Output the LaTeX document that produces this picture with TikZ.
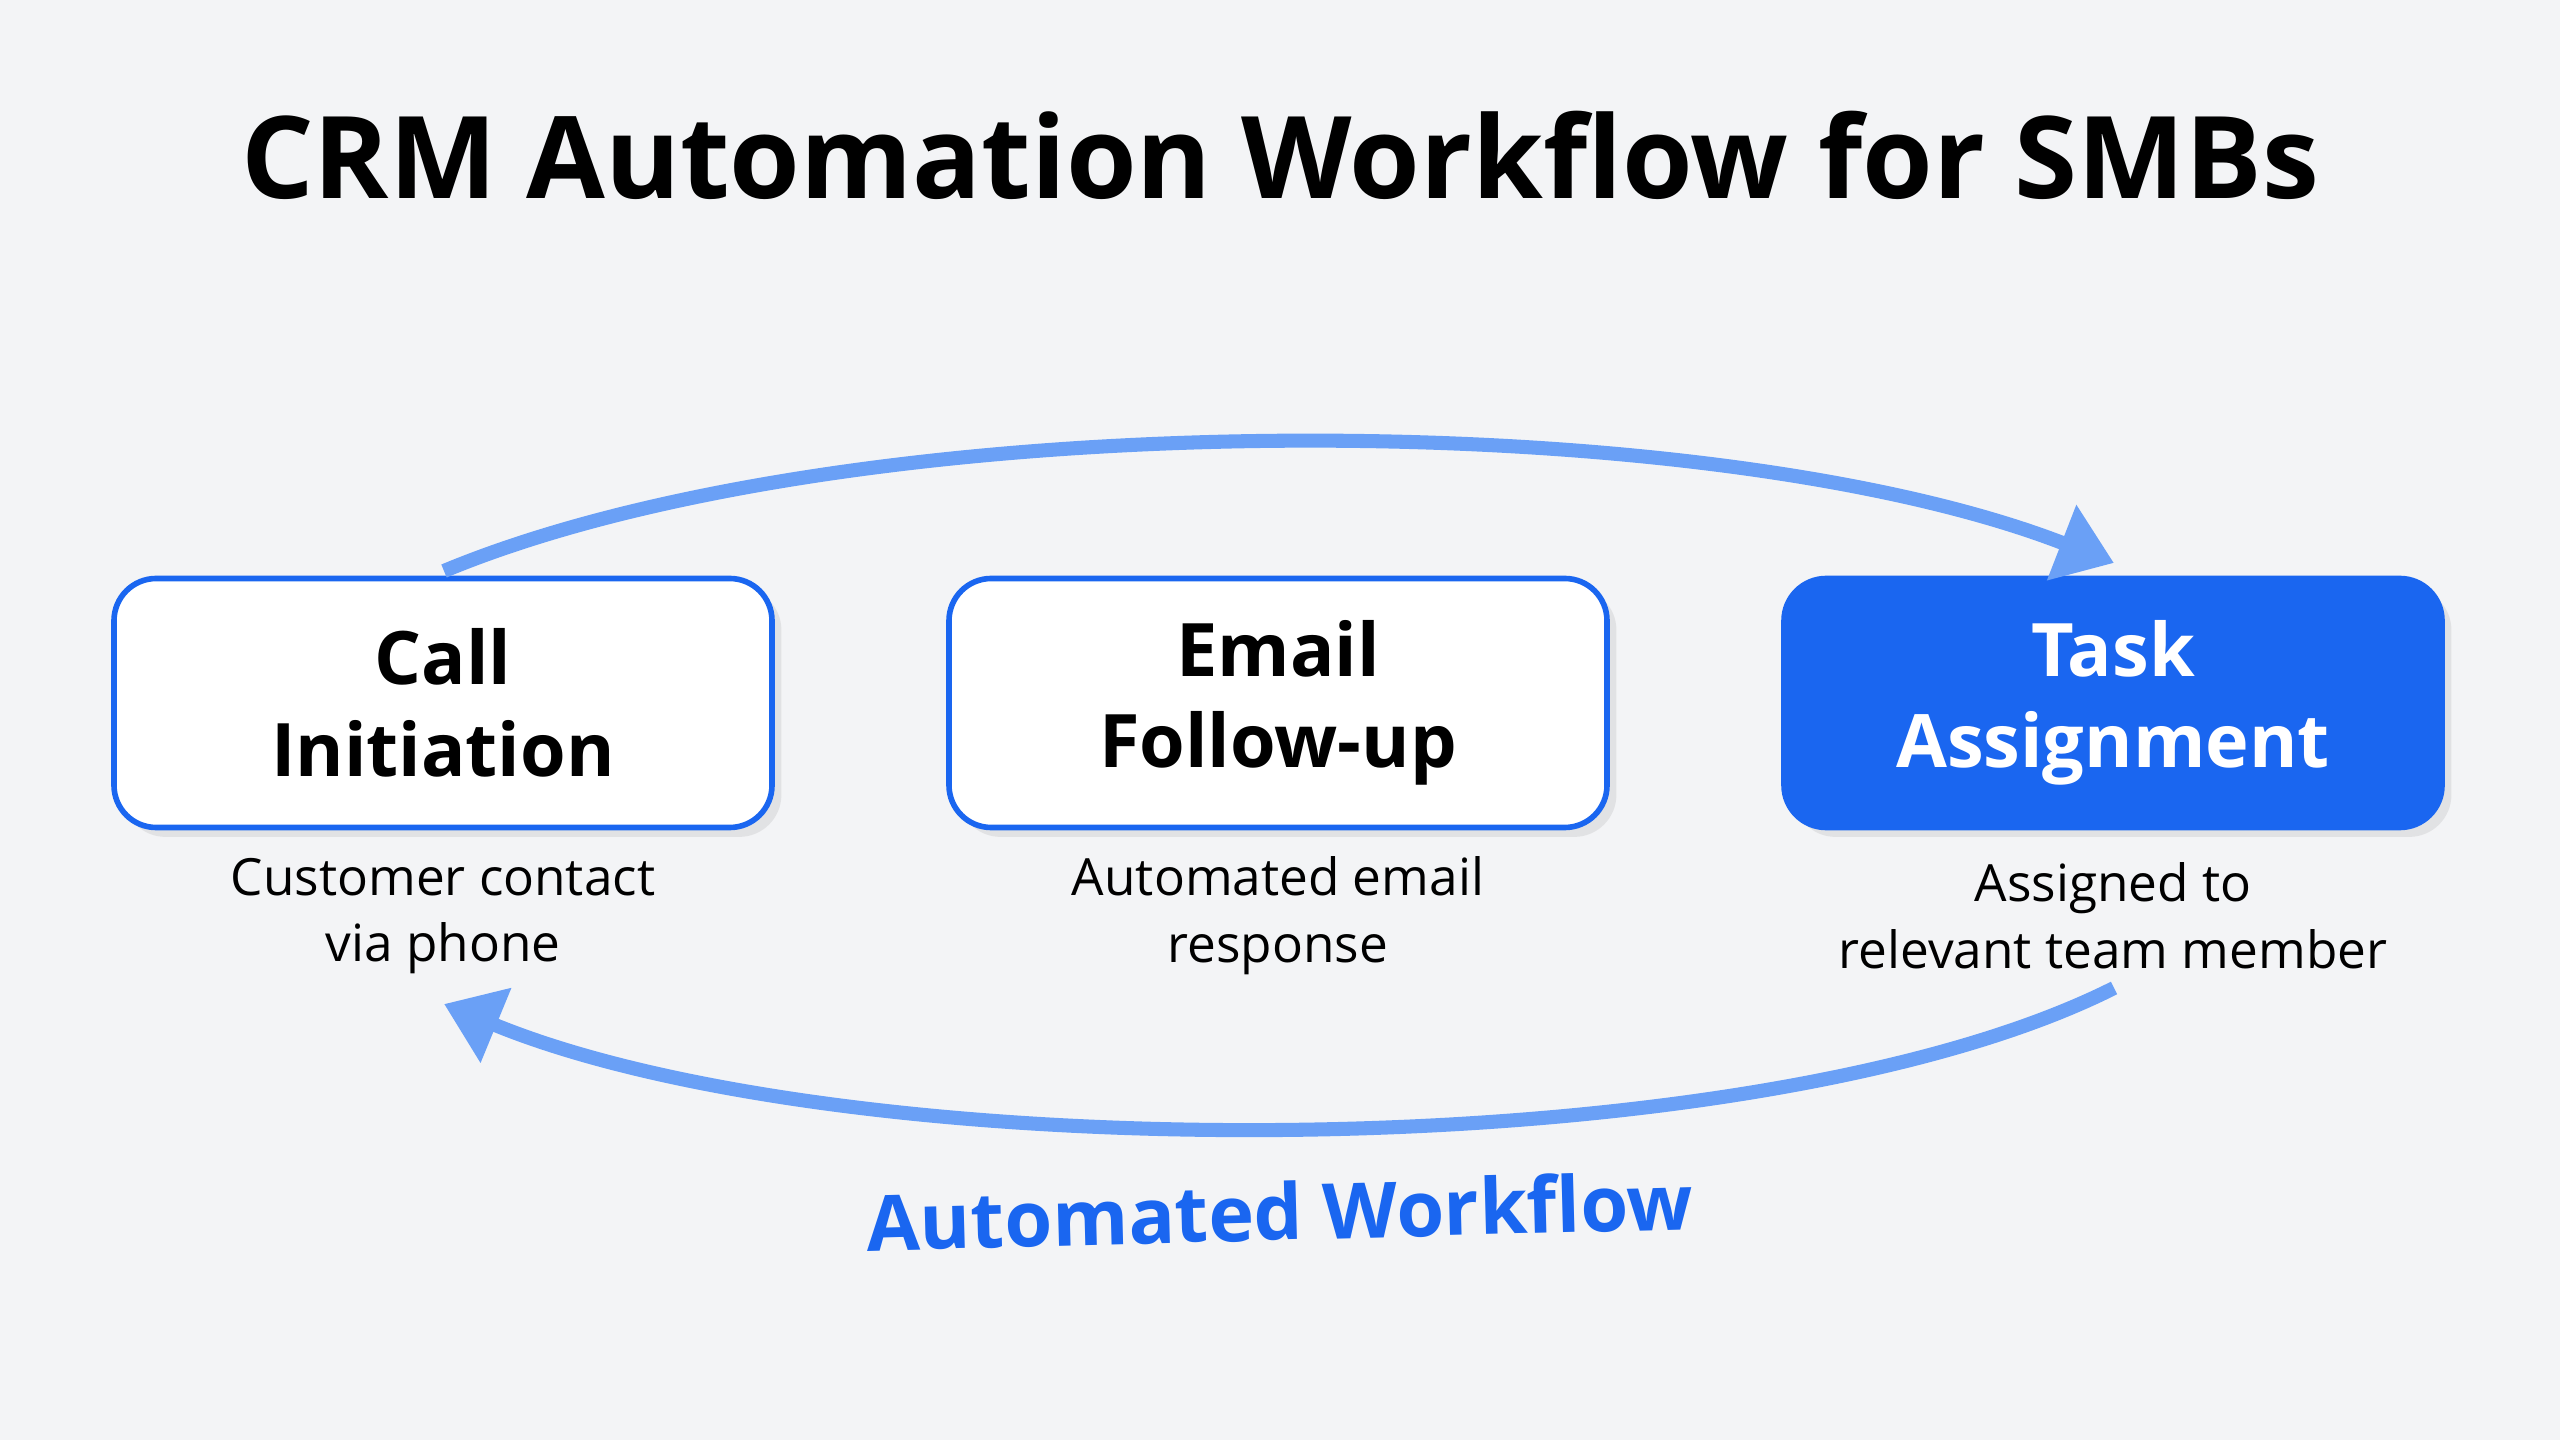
\documentclass[tikz,border=0pt]{standalone}
\usepackage{fontspec}
\setmainfont{Open Sans}
\usetikzlibrary{arrows.meta,shadows}
\definecolor{bg}{HTML}{F3F4F6}
\definecolor{flowblue}{HTML}{1A66F0}
\definecolor{arcblue}{HTML}{6AA0F6}
\tikzset{
	stage/.style={draw=flowblue, line width=1.6pt, rounded corners=12pt, fill=white,
		minimum width=6.58cm, minimum height=2.49cm, align=center,
		font=\fontsize{21}{26}\selectfont\bfseries, drop shadow={opacity=0.15}},
	note/.style={align=center, font=\fontsize{14.6}{19}\selectfont},
	loop/.style={arcblue, line width=4pt, -{Triangle[length=16pt,width=22pt]}}
}
\begin{document}
\begin{tikzpicture}
	\fill[bg] (0,0) rectangle (25.6,14.4);
	\node at (12.8,12.85) (title) {\fontsize{32.5}{36}\selectfont\bfseries CRM Automation Workflow for SMBs};
	
	\node[stage] at (4.43,7.37) (call) {Call\\Initiation};
	\node[stage] at (12.78,7.37) (email) {Email\\Follow-up};
	\node[stage, fill=flowblue, text=white] at (21.13,7.37) (task) {Task\\Assignment};
	
	\node[note] at (4.43,5.24) (calln) {Customer contact\\via phone};
	\node[note] at (12.78,5.24) (emailn) {Automated email\\response};
	\node[note] at (21.13,5.24) (taskn) {Assigned to\\relevant team member};
	
	\coordinate (top1) at (4.44,8.69);
	\coordinate (top3) at (21.14,8.77);
	\coordinate (bot3) at (21.14,4.52);
	\coordinate (bot1) at (4.44,4.36);
	\draw[loop] (top1) .. controls (8.5,10.38) and (17,10.38) .. (top3);
	\draw[loop] (bot3) .. controls (17.5,2.69) and (8.5,2.69) .. (bot1);
	
	\node[rotate=1.5, text=flowblue] at (12.8,2.29) (label) {\fontsize{22}{26}\selectfont\bfseries Automated Workflow};
\end{tikzpicture}
\end{document}
